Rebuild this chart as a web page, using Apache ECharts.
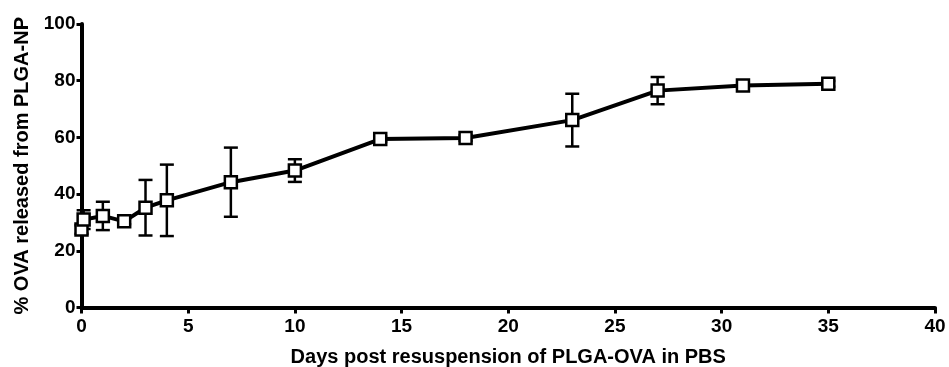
<!DOCTYPE html>
<html><head><meta charset="utf-8">
<script src="https://cdn.jsdelivr.net/npm/echarts@6/dist/echarts.min.js"></script>
<style>html,body{margin:0;padding:0;background:#fff}#c{width:949px;height:367px}</style>
</head><body><div id="c"></div>
<script>
const days = [0, 0.1, 1, 2, 3, 4, 7, 10, 14, 18, 23, 27, 31, 35];
const released = [27.5, 31, 32.3, 30.4, 35.2, 37.8, 44.2, 48.3, 59.4, 59.8, 66.1, 76.5, 78.3, 78.9];
const errors = [1.5, 3.3, 5, 1, 9.8, 12.6, 12.2, 4, 1, 1, 9.3, 4.8, 1, 1];
const xTicks = [0, 5, 10, 15, 20, 25, 30, 35, 40];
const yTicks = [0, 20, 40, 60, 80, 100];

const font = 'Liberation Sans';
const chart = echarts.init(document.getElementById('c'));
const lineData = days.map((d, i) => [d, released[i]]);
const errData = days.map((d, i) => [d, released[i] - errors[i], released[i] + errors[i]]);

chart.setOption({
  animation: false,
  grid: {left: 81.5, right: 14, top: 24, bottom: 59.5, containLabel: false, outerBoundsMode: 'none'},
  xAxis: {
    type: 'value', min: xTicks[0], max: xTicks[xTicks.length - 1], interval: 5,
    name: 'Days post resuspension of PLGA-OVA in PBS',
    nameLocation: 'middle', nameGap: 40,
    nameTextStyle: {fontFamily: font, fontWeight: 'bold', fontSize: 20, color: '#000'},
    axisLine: {lineStyle: {color: '#000', width: 4}},
    axisTick: {length: 6, lineStyle: {color: '#000', width: 3}},
    axisLabel: {fontFamily: font, fontWeight: 'bold', fontSize: 19, color: '#000', margin: 10},
    splitLine: {show: false}
  },
  yAxis: {
    type: 'value', min: yTicks[0], max: yTicks[yTicks.length - 1], interval: 20,
    name: '% OVA released from PLGA-NP',
    nameLocation: 'middle', nameGap: 48, nameRotate: 90,
    nameTextStyle: {fontFamily: font, fontWeight: 'bold', fontSize: 20, color: '#000'},
    axisLine: {show: true, lineStyle: {color: '#000', width: 4}},
    axisTick: {show: true, length: 5, lineStyle: {color: '#000', width: 3}},
    axisLabel: {fontFamily: font, fontWeight: 'bold', fontSize: 19, color: '#000', margin: 6},
    splitLine: {show: false}
  },
  series: [
    {
      type: 'custom',
      data: errData,
      z: 3,
      renderItem: function (params, api) {
        const x = api.value(0);
        const lo = api.coord([x, api.value(1)]);
        const hi = api.coord([x, api.value(2)]);
        const w = 7;
        const st = {stroke: '#000', lineWidth: 2.5};
        return {type: 'group', children: [
          {type: 'line', shape: {x1: lo[0], y1: lo[1], x2: hi[0], y2: hi[1]}, style: st},
          {type: 'line', shape: {x1: lo[0]-w, y1: lo[1], x2: lo[0]+w, y2: lo[1]}, style: st},
          {type: 'line', shape: {x1: hi[0]-w, y1: hi[1], x2: hi[0]+w, y2: hi[1]}, style: st}
        ]};
      }
    },
    {
      type: 'line',
      data: lineData,
      z: 4,
      lineStyle: {color: '#000', width: 4},
      symbol: 'rect', symbolSize: 12,
      itemStyle: {color: '#fff', borderColor: '#000', borderWidth: 2.5},
      showAllSymbol: true
    }
  ]
});
</script></body></html>
